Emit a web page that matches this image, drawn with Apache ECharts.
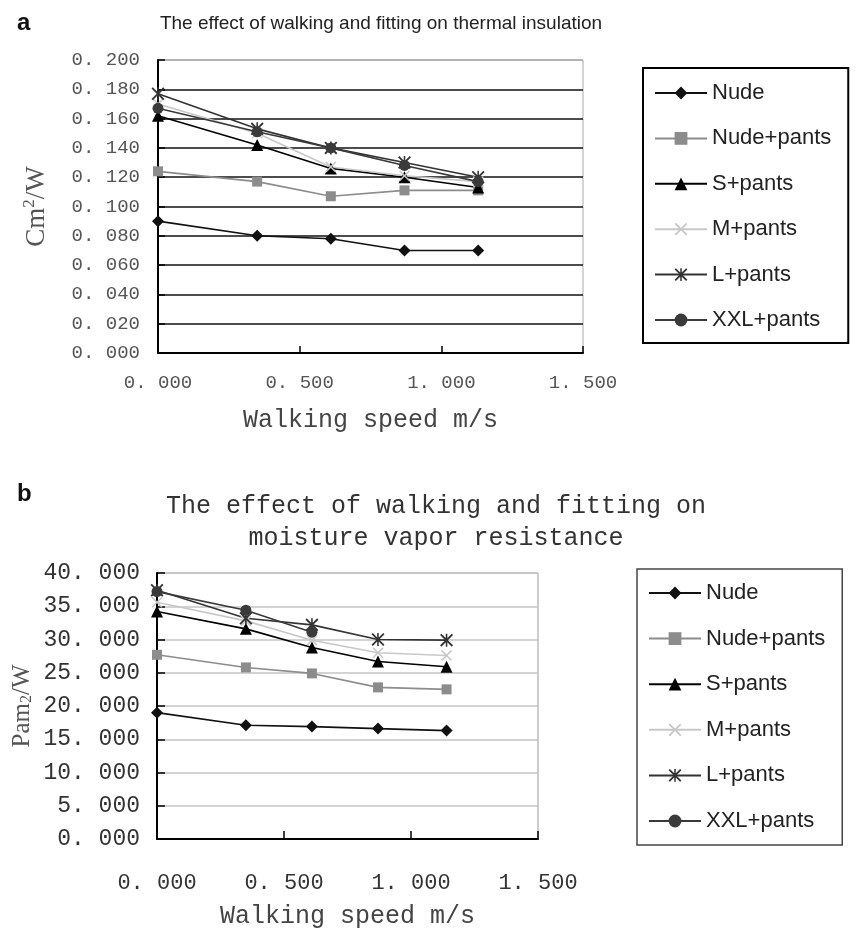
<!DOCTYPE html>
<html>
<head>
<meta charset="utf-8">
<script src="https://cdn.jsdelivr.net/npm/echarts@6/dist/echarts.min.js"></script>
<style>
  html, body { margin: 0; padding: 0; background: #fff; }
  #main { width: 856px; height: 931px; }
</style>
</head>
<body>
<div id="main"></div>
<script>
// 图例名称
const seriesNames = ['Nude', 'Nude+pants', 'S+pants', 'M+pants', 'L+pants', 'XXL+pants'];

// (a) thermal insulation, Cm2/W
const speedA = [0, 0.35, 0.61, 0.87, 1.13];
const nudeA = [0.090, 0.080, 0.078, 0.070, 0.070];
const nudePantsA = [0.124, 0.117, 0.107, 0.111, 0.111];
const sPantsA = [0.162, 0.142, 0.126, 0.120, 0.113];
const mPantsA = [0.170, 0.150, 0.127, 0.121, 0.117];
const lPantsA = [0.177, 0.153, 0.140, 0.130, 0.120];
const xxlPantsA = [0.167, 0.151, 0.140, 0.128, 0.117];

// (b) moisture vapor resistance, Pam2/W
const speedB = [0, 0.35, 0.61, 0.87, 1.14];
const nudeB = [19.0, 17.1, 16.9, 16.6, 16.3];
const nudePantsB = [27.7, 25.8, 24.9, 22.8, 22.5];
const sPantsB = [34.2, 31.6, 28.8, 26.7, 25.9];
const mPantsB = [35.6, 32.8, 29.9, 28.0, 27.6];
const lPantsB = [37.4, 33.2, 32.2, 30.0, 29.9];
const xxlPantsB = [37.2, 34.4, 31.1, null, null];

const MONO = '"Liberation Mono", "DejaVu Sans Mono", monospace';
const SANS = '"Liberation Sans", Arial, sans-serif';
const SERIF = '"Liberation Serif", "DejaVu Serif", serif';

const xPath = 'path://M0,1L1,0L5,4L9,0L10,1L6,5L10,9L9,10L5,6L1,10L0,9L4,5Z';
const starPath = 'path://M0,1L1,0L5,4L9,0L10,1L6,5L10,9L9,10L5,6L1,10L0,9L4,5Z M4.4,0L5.6,0L5.6,10L4.4,10Z';

// 每条线的样式
const looks = [
  { color: '#111', symbol: 'diamond', size: 12 },
  { color: '#8c8c8c', symbol: 'rect', size: 10 },
  { color: '#000', symbol: 'triangle', size: 12 },
  { color: '#c8c8c8', symbol: xPath, size: 11 },
  { color: '#333', symbol: starPath, size: 13 },
  { color: '#3a3a3a', symbol: 'circle', size: 11 }
];

function makeSeries(speeds, groups, idx) {
  return groups.map((vals, i) => ({
    name: seriesNames[i],
    type: 'line',
    xAxisIndex: idx,
    yAxisIndex: idx,
    data: speeds.map((s, k) => [s, vals[k]]),
    symbol: looks[i].symbol,
    symbolSize: looks[i].size,
    showAllSymbol: true,
    connectNulls: false,
    lineStyle: { color: looks[i].color, width: 1.6 },
    itemStyle: { color: looks[i].color },
    emphasis: { disabled: true }
  }));
}

function fmt(v) {
  return v.toFixed(3).replace('.', '. ');
}

const chart = echarts.init(document.getElementById('main'));

const option = {
  animation: false,
  backgroundColor: '#fff',
  title: [
    { text: 'a', left: 12, top: 6, textStyle: { fontFamily: SANS, fontSize: 24, fontWeight: 'bold', color: '#111' } },
    {
      text: 'The effect of walking and fitting on thermal insulation',
      left: 376, top: 9, textAlign: 'center',
      textStyle: { fontFamily: SANS, fontSize: 19, fontWeight: 'normal', color: '#222' }
    },
    { text: 'b', left: 12, top: 477, textStyle: { fontFamily: SANS, fontSize: 24, fontWeight: 'bold', color: '#111' } },
    {
      text: 'The effect of walking and fitting on\nmoisture vapor resistance',
      left: 431, top: 485, textAlign: 'center',
      textStyle: { fontFamily: MONO, fontSize: 25, lineHeight: 32, fontWeight: 'normal', color: '#333' }
    }
  ],
  grid: [
    { left: 158, top: 60, right: 273, bottom: 578, show: true, borderColor: '#aaa', borderWidth: 1, backgroundColor: 'transparent' },
    { left: 157, top: 573, right: 318, bottom: 92, show: true, borderColor: '#999', borderWidth: 1, backgroundColor: 'transparent' }
  ],
  xAxis: [
    {
      gridIndex: 0, type: 'value', min: 0, max: 1.5, interval: 0.5,
      name: 'Walking speed m/s', nameLocation: 'middle', nameGap: 55,
      nameTextStyle: { fontFamily: MONO, fontSize: 25, color: '#444' },
      axisLine: { lineStyle: { color: '#000', width: 2 } },
      axisTick: { inside: true, length: 7, lineStyle: { color: '#000', width: 1.5 } },
      axisLabel: { formatter: fmt, fontFamily: MONO, fontSize: 19, color: '#555', margin: 20 },
      splitLine: { show: false }
    },
    {
      gridIndex: 1, type: 'value', min: 0, max: 1.5, interval: 0.5,
      name: 'Walking speed m/s', nameLocation: 'middle', nameGap: 65,
      nameTextStyle: { fontFamily: MONO, fontSize: 25, color: '#444' },
      axisLine: { lineStyle: { color: '#000', width: 2 } },
      axisTick: { inside: true, length: 8, lineStyle: { color: '#000', width: 1.5 } },
      axisLabel: { formatter: fmt, fontFamily: MONO, fontSize: 22, color: '#333', margin: 33 },
      splitLine: { show: false }
    }
  ],
  yAxis: [
    {
      gridIndex: 0, type: 'value', min: 0, max: 0.2, interval: 0.02,
      name: 'Cm{sup|2}/W', nameLocation: 'middle', nameGap: 106,
      nameTextStyle: {
        fontFamily: SERIF, fontSize: 27, color: '#555',
        rich: { sup: { fontFamily: SERIF, fontSize: 17, color: '#555', verticalAlign: 'top', padding: [0, 0, 14, 0] } }
      },
      axisLine: { lineStyle: { color: '#000', width: 2 } },
      axisTick: { inside: true, length: 7, lineStyle: { color: '#000', width: 1.5 } },
      axisLabel: { formatter: fmt, fontFamily: MONO, fontSize: 19, color: '#555', margin: 18 },
      splitLine: {
        lineStyle: {
          color: ['#111', '#111', '#111', '#111', '#111', '#111', '#111', '#111', '#111', '#111', '#aaa'],
          width: 1.6
        }
      }
    },
    {
      gridIndex: 1, type: 'value', min: 0, max: 40, interval: 5,
      name: 'Pam{sub|2}/W', nameLocation: 'middle', nameGap: 122,
      nameTextStyle: {
        fontFamily: SERIF, fontSize: 25, color: '#555',
        rich: { sub: { fontFamily: SERIF, fontSize: 16, color: '#555', padding: [10, 0, 0, 0] } }
      },
      axisLine: { lineStyle: { color: '#000', width: 2 } },
      axisTick: { inside: true, length: 8, lineStyle: { color: '#000', width: 1.5 } },
      axisLabel: { formatter: fmt, fontFamily: MONO, fontSize: 23, color: '#333', margin: 17 },
      splitLine: { lineStyle: { color: '#c4c4c4', width: 1.6 } }
    }
  ],
  legend: [
    {
      orient: 'vertical', left: 643, top: 68,
      data: seriesNames,
      itemWidth: 52, itemHeight: 16, itemGap: 21.4,
      padding: [13, 17, 11, 11],
      borderColor: '#000', borderWidth: 2,
      textStyle: { fontFamily: SANS, fontSize: 22, lineHeight: 24, color: '#222' },
      selectedMode: false
    },
    {
      orient: 'vertical', left: 637, top: 569,
      data: seriesNames,
      itemWidth: 52, itemHeight: 16, itemGap: 21.6,
      padding: [12, 17, 12, 11],
      borderColor: '#444', borderWidth: 1.5,
      textStyle: { fontFamily: SANS, fontSize: 22, lineHeight: 24, color: '#222' },
      selectedMode: false
    }
  ],
  series: [
    ...makeSeries(speedA, [nudeA, nudePantsA, sPantsA, mPantsA, lPantsA, xxlPantsA], 0),
    ...makeSeries(speedB, [nudeB, nudePantsB, sPantsB, mPantsB, lPantsB, xxlPantsB], 1)
  ]
};

chart.setOption(option);
</script>
</body>
</html>
